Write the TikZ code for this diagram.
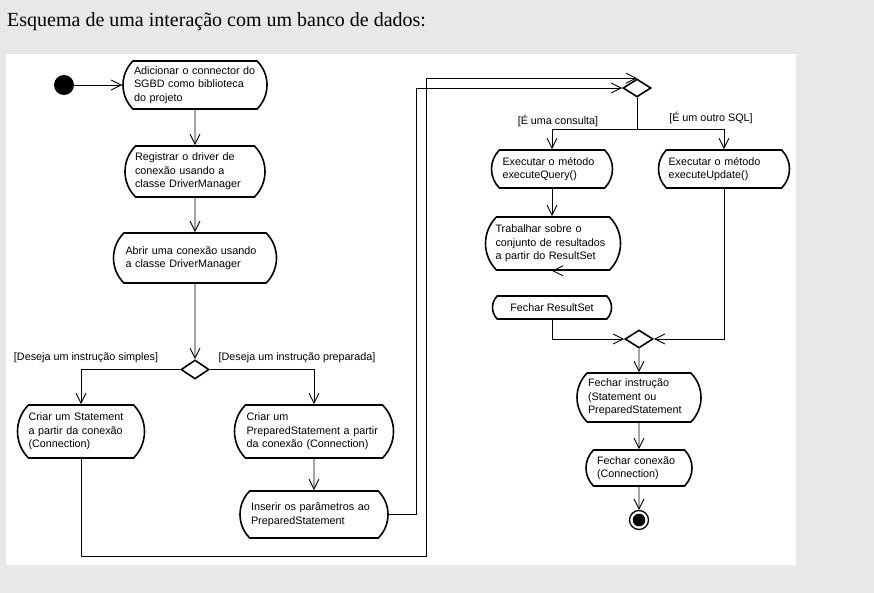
\documentclass[tikz,border=0pt]{standalone}
\usepackage{fontspec}
\newfontfamily\uifont{Liberation Sans}
\newfontfamily\titlefont{Liberation Serif}
\usepackage{tikz}
\usetikzlibrary{positioning, shapes.misc, shapes.geometric, arrows.meta}
\definecolor{fundo}{HTML}{E8E8E8}

\begin{document}
\begin{tikzpicture}[x=1pt, y=-1pt,
		acao/.style={rounded rectangle, rounded rectangle arc length=90, draw=black, line width=1.6pt, align=left, inner xsep=-2pt, inner ysep=2pt, font=\uifont\fontsize{10.8}{13.5}\selectfont},
		decisao/.style={diamond, draw=black, line width=1.6pt, inner sep=0pt, minimum width=28pt, minimum height=19pt},
		guarda/.style={inner sep=0pt, font=\uifont\fontsize{10.8}{13.5}\selectfont},
		fluxo/.style={line width=0.9pt, -{Straight Barb[length=10pt, width=10pt, line width=0.9pt]}},
		linha/.style={line width=0.9pt}]
	
	% Fundo
	\useasboundingbox (0,0) rectangle (874,593);
	\fill[fundo] (0,0) rectangle (874,593);
	\fill[white] (6,54) rectangle (796,565);
	
	% Titulo
	\node[anchor=base west, inner sep=0pt, font=\titlefont\fontsize{20}{24}\selectfont] (Titulo) at (7,27) {Esquema de uma interação com um banco de dados:};
	
	% Nodo inicial y nodo final
	\node[circle, fill=black, minimum size=20pt, inner sep=0pt] (Inicio) at (64,85) {};
	\node[circle, draw=black, line width=1.3pt, minimum size=19pt, inner sep=0pt, path picture={\fill[black] (path picture bounding box.center) circle (6.3pt);}] (Fim) at (639,520) {};
	
	% Acoes da coluna esquerda
	\node[acao, minimum width=140pt, minimum height=48pt, text width=122pt] (Acao1) at (195,85) {Adicionar o connector do\\SGBD como biblioteca\\do projeto};
	\node[acao, minimum width=136pt, minimum height=51pt, text width=120pt] (Acao2) at (195,171.5) {Registrar o driver de\\conexão usando a\\classe DriverManager};
	\node[acao, minimum width=159pt, minimum height=50pt, text width=139pt] (Acao3) at (195,258) {Abrir uma conexão usando\\a classe DriverManager};
	\node[acao, minimum width=123pt, minimum height=53pt, text width=105pt] (Statement) at (81,431.5) {Criar um Statement\\a partir da conexão\\(Connection)};
	\node[acao, minimum width=155pt, minimum height=53pt, text width=135pt] (Prepared) at (314,431.5) {Criar um\\PreparedStatement a partir\\da conexão (Connection)};
	\node[acao, minimum width=144pt, minimum height=47pt, text width=126pt] (Parametros) at (314,514.5) {Inserir os parâmetros ao\\PreparedStatement};
	
	% Acoes da coluna direita
	\node[acao, minimum width=117pt, minimum height=38pt, text width=99pt] (Consulta) at (552,169) {Executar o método\\executeQuery()};
	\node[acao, minimum width=127pt, minimum height=38pt, text width=111pt] (Atualiza) at (724,169) {Executar o método\\executeUpdate()};
	\node[acao, minimum width=131pt, minimum height=53pt, text width=115pt] (Trabalhar) at (553,243.5) {Trabalhar sobre o\\conjunto de resultados\\a partir do ResultSet};
	\node[acao, minimum width=115pt, minimum height=23pt] (FecharRS) at (552,307.5) {Fechar ResultSet};
	\node[acao, minimum width=120pt, minimum height=49pt, text width=102pt] (FecharInstr) at (639,397.5) {Fechar instrução\\(Statement ou\\PreparedStatement};
	\node[acao, minimum width=102pt, minimum height=36pt, text width=84pt] (FecharCon) at (639,468) {Fechar conexão\\(Connection)};
	
	% Decisoes
	\node[decisao] (Decisao1) at (195,369.5) {};
	\node[decisao, minimum height=18pt] (Decisao2) at (637,88) {};
	\node[decisao, minimum height=18pt] (Decisao3) at (639,339) {};
	
	% Guardas
	\node[guarda] (GuardaSimples) at (86,358) {[Deseja um instrução simples]};
	\node[guarda] (GuardaPreparada) at (297,358) {[Deseja um instrução preparada]};
	\node[guarda] (GuardaConsulta) at (558,121) {[É uma consulta]};
	\node[guarda] (GuardaOutro) at (711,118) {[É um outro SQL]};
	
	% Pontos de passagem
	\coordinate (Volta1) at (416,514.5);
	\coordinate (Volta2) at (426,556.5);
	\coordinate (Ramo) at (637,129.5);
	
	% Fluxo da coluna esquerda
	\draw[fluxo] (Inicio) -- (Acao1);
	\draw[fluxo] (Acao1) -- (Acao2);
	\draw[fluxo] (Acao2) -- (Acao3);
	\draw[fluxo] (Acao3) -- (Decisao1);
	\draw[fluxo] (Decisao1.west) -| (Statement.north);
	\draw[fluxo] (Decisao1.east) -| (Prepared.north);
	\draw[fluxo] (Prepared) -- (Parametros);
	
	% Retornos para a segunda decisao
	\draw[fluxo] (Parametros.east) -- (Volta1) |- (Decisao2.west);
	\draw[fluxo] (Statement.south) |- (Volta2) |- (Decisao2.north);
	
	% Fluxo da coluna direita
	\draw[linha] (Decisao2.south) -- (Ramo);
	\draw[fluxo] (Ramo) -| (Consulta.north);
	\draw[fluxo] (Ramo) -| (Atualiza.north);
	\draw[fluxo] (Consulta.south) -- (Consulta.south |- Trabalhar.north);
	\draw[fluxo] (Trabalhar.south) -- (Trabalhar.south -| FecharRS.north);
	\draw[fluxo] (FecharRS.south) |- (Decisao3.west);
	\draw[fluxo] (Atualiza.south) |- (Decisao3.east);
	\draw[fluxo] (Decisao3) -- (FecharInstr);
	\draw[fluxo] (FecharInstr) -- (FecharCon);
	\draw[fluxo] (FecharCon) -- (Fim);
	
\end{tikzpicture}
\end{document}
